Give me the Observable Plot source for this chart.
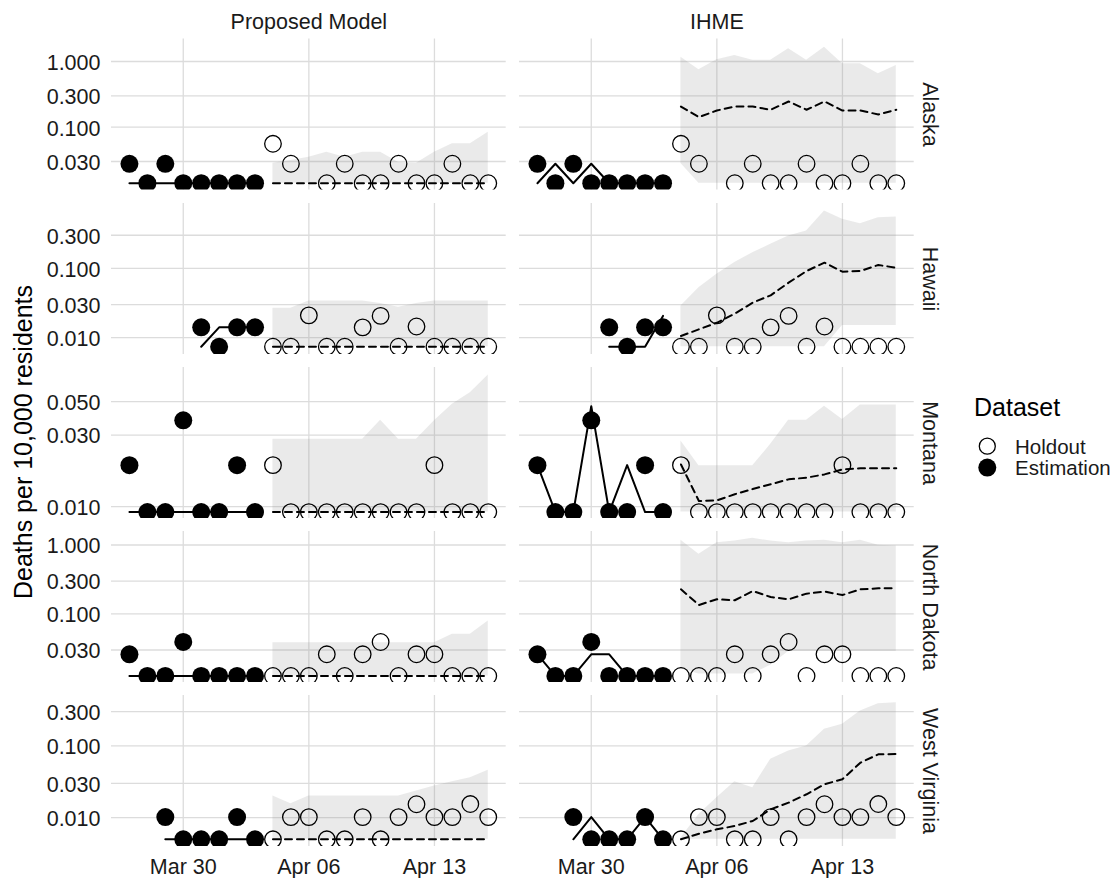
<!DOCTYPE html>
<html>
<head>
<meta charset="utf-8">
<script src="https://cdn.jsdelivr.net/npm/d3@7"></script>
<script src="https://cdn.jsdelivr.net/npm/@observablehq/plot@0.6"></script>
<style>
  html, body { margin: 0; padding: 0; background: #ffffff; }
  #chart { position: relative; width: 1117px; height: 878px; overflow: hidden;
           font-family: "Liberation Sans", Arial, Helvetica, sans-serif; background: #fff; }
  #chart svg.row { position: absolute; left: 0; overflow: visible; }
  #ytitle { position: absolute; left: 23px; top: 442px; transform: translate(-50%, -50%) rotate(-90deg);
            white-space: nowrap; font-size: 25px; color: #000; }
  #legend { position: absolute; left: 0; top: 0; overflow: visible; }
</style>
</head>
<body>
<div id="chart"></div>
<script>
// ---------------- data ----------------
const dates = ["2020-03-27","2020-03-28","2020-03-29","2020-03-30","2020-03-31","2020-04-01","2020-04-02",
  "2020-04-03","2020-04-04","2020-04-05","2020-04-06","2020-04-07","2020-04-08","2020-04-09","2020-04-10",
  "2020-04-11","2020-04-12","2020-04-13","2020-04-14","2020-04-15","2020-04-16"];
const estimationCount = 8; // first 8 dates = Estimation, rest = Holdout
const models = ["Proposed Model", "IHME"];
const states = ["Alaska", "Hawaii", "Montana", "North Dakota", "West Virginia"];
const xTickLabels = ["2020-03-30", "2020-04-06", "2020-04-13"];
const xDomain = ["2020-03-26", "2020-04-17"];

// Alaska
const obsAlaska      = [0.0277,0.014,0.0277,0.014,0.014,0.014,0.014,0.014,0.0558,0.0277,null,0.014,0.0277,0.014,0.014,0.0277,0.014,0.014,0.0277,0.014,0.014];
const propFitAlaska  = [0.014,0.014,0.014,0.014,0.014,0.014,0.014,0.014,0.014,0.014,0.014,0.014,0.014,0.014,0.014,0.014,0.014,0.014,0.014,0.014,0.014];
const propLoAlaska   = [0.014,0.014,0.014,0.014,0.014,0.014,0.014,0.014,0.014,0.014,0.014,0.014,0.014];
const propHiAlaska   = [0.0283,0.031,0.0349,0.0416,0.0349,0.0416,0.0416,0.029,0.0283,0.0416,0.0557,0.0557,0.0839];
const ihmeFitAlaska  = [0.014,0.0277,0.014,0.0277,0.014,0.014,0.014,0.014,0.206,0.142,0.179,0.206,0.206,0.184,0.246,0.184,0.246,0.179,0.179,0.156,0.184];
const ihmeLoAlaska   = [0.028,0.014,0.014,0.014,0.014,0.014,0.014,0.014,0.014,0.014,0.014,0.014,0.014];
const ihmeHiAlaska   = [1.16,0.746,1.06,1.23,1.04,1.04,1.56,1.04,1.65,0.92,0.92,0.65,0.87];
const yTicksAlaska   = [0.03, 0.1, 0.3, 1];
const yDomainAlaska  = [0.01104, 2.20];

// Hawaii
const obsHawaii      = [null,null,null,null,0.0141,0.0074,0.0141,0.0141,0.0074,0.0074,0.021,0.0074,0.0074,0.0141,0.0206,0.0074,0.0145,0.0074,0.0074,0.0074,0.0074];
const propFitHawaii  = [null,null,null,null,0.0074,0.0141,0.0141,0.0141,0.0074,0.0074,0.0074,0.0074,0.0074,0.0074,0.0074,0.0074,0.0074,0.0074,0.0074,0.0074,0.0074];
const propLoHawaii   = [0.0074,0.0074,0.0074,0.0074,0.0074,0.0074,0.0074,0.0074,0.0074,0.0074,0.0074,0.0074,0.0074];
const propHiHawaii   = [0.0265,0.0265,0.0338,0.0338,0.0338,0.0338,0.031,0.0275,0.031,0.0338,0.0338,0.0338,0.0338];
const ihmeFitHawaii  = [null,null,null,null,0.0074,0.0074,0.0074,0.0206,0.01057,0.0132,0.0164,0.0222,0.032,0.0408,0.0621,0.0915,0.1207,0.0895,0.0915,0.1117,0.102];
const ihmeLoHawaii   = [0.0074,0.0074,0.0074,0.0074,0.0074,0.0074,0.0074,0.0074,0.0074,0.015,0.015,0.015,0.015];
const ihmeHiHawaii   = [0.0286,0.0526,0.0819,0.121,0.168,0.222,0.292,0.345,0.671,0.509,0.441,0.538,0.55];
const yTicksHawaii   = [0.01, 0.03, 0.1, 0.3];
const yDomainHawaii  = [0.00572, 0.861];

// Montana
const obsMontana     = [0.0189,0.0092,0.0092,0.0376,0.0092,0.0092,0.0189,0.0092,0.0189,0.0092,0.0092,0.0092,0.0092,0.0092,0.0092,0.0092,0.0092,0.0189,0.0092,0.0092,0.0092];
const propFitMontana = [0.0092,0.0092,0.0092,0.0092,0.0092,0.0092,0.0092,0.0092,0.0092,0.0092,0.0092,0.0092,0.0092,0.0092,0.0092,0.0092,0.0092,0.0092,0.0092,0.0092,0.0092];
const propLoMontana  = [0.0092,0.0092,0.0092,0.0092,0.0092,0.0092,0.0092,0.0092,0.0092,0.0092,0.0092,0.0092,0.0092];
const propHiMontana  = [0.0281,0.0281,0.0281,0.0281,0.0281,0.0281,0.0376,0.0281,0.0281,0.0373,0.0481,0.0574,0.0753];
const ihmeFitMontana = [0.0189,0.0092,0.0092,0.0467,0.0092,0.0189,0.0092,0.0092,0.0191,0.0109,0.011,0.0121,0.0131,0.0141,0.0152,0.0156,0.0164,0.0177,0.018,0.018,0.018];
const ihmeLoMontana  = [0.0092,0.0092,0.0092,0.0092,0.0092,0.0092,0.0092,0.0092,0.0092,0.0092,0.0092,0.0092,0.0092];
const ihmeHiMontana  = [0.0274,0.0187,0.0187,0.0187,0.0187,0.026,0.0376,0.0376,0.0467,0.038,0.0475,0.0475,0.0475];
const yTicksMontana  = [0.01, 0.03, 0.05];
const yDomainMontana = [0.00834, 0.0845];

// North Dakota
const obsNorthDakota     = [0.026,0.0126,0.0126,0.0392,0.0126,0.0126,0.0126,0.0126,0.0126,0.0126,0.0126,0.026,0.0126,0.026,0.0392,0.0126,0.026,0.026,0.0126,0.0126,0.0126];
const propFitNorthDakota = [0.0126,0.0126,0.0126,0.0126,0.0126,0.0126,0.0126,0.0126,0.0126,0.0126,0.0126,0.0126,0.0126,0.0126,0.0126,0.0126,0.0126,0.0126,0.0126,0.0126,0.0126];
const propLoNorthDakota  = [0.0126,0.0126,0.0126,0.0126,0.0126,0.0126,0.0126,0.0126,0.0126,0.0126,0.0126,0.0126,0.0126];
const propHiNorthDakota  = [0.0383,0.0383,0.0383,0.0383,0.0383,0.0383,0.0383,0.0383,0.0383,0.0383,0.0506,0.0506,0.079];
const ihmeFitNorthDakota = [0.026,0.0126,0.0126,0.026,0.026,0.0126,0.0126,0.0126,0.2276,0.1349,0.163,0.158,0.215,0.176,0.163,0.197,0.211,0.188,0.2276,0.235,0.235];
const ihmeLoNorthDakota  = [0.016,0.0135,0.0135,0.0135,0.0135,0.018,0.0285,0.0285,0.0285,0.0285,0.0285,0.0285,0.0285];
const ihmeHiNorthDakota  = [1.17,0.733,1.08,1.14,1.25,1.14,1.08,1.14,1.17,1.08,1.17,0.99,0.97];
const yTicksNorthDakota  = [0.03, 0.1, 0.3, 1];
const yDomainNorthDakota = [0.01013, 1.57];

// West Virginia
const obsWestVirginia     = [null,null,0.0102,0.005,0.005,0.005,0.0102,0.005,0.005,0.0102,0.0102,0.005,0.005,0.0102,0.005,0.0102,0.0154,0.0102,0.0102,0.0155,0.0102];
const propFitWestVirginia = [null,null,0.005,0.005,0.005,0.005,0.005,0.005,0.005,0.005,0.005,0.005,0.005,0.005,0.005,0.005,0.005,0.005,0.005,0.005,0.005];
const propLoWestVirginia  = [0.005,0.005,0.005,0.005,0.005,0.005,0.005,0.005,0.005,0.005,0.005,0.005,0.005];
const propHiWestVirginia  = [0.02,0.0157,0.02,0.02,0.02,0.02,0.02,0.02,0.0235,0.0277,0.0317,0.0361,0.0457];
const ihmeFitWestVirginia = [null,null,0.005,0.0102,0.005,0.005,0.0102,0.005,0.005,0.00598,0.00689,0.00766,0.009,0.0131,0.0162,0.0212,0.0292,0.0343,0.0584,0.0764,0.077];
const ihmeLoWestVirginia  = [0.005,0.005,0.005,0.005,0.005,0.005,0.005,0.005,0.005,0.005,0.005,0.005,0.005];
const ihmeHiWestVirginia  = [0.0052,0.0111,0.019,0.0317,0.0262,0.0651,0.0849,0.0998,0.1706,0.2,0.307,0.388,0.40];
const yTicksWestVirginia  = [0.01, 0.03, 0.1, 0.3];
const yDomainWestVirginia = [0.00397, 0.504];

// ---------------- build ----------------
const parse = d3.utcParse("%Y-%m-%d");
const D = dates.map(parse);
const xTickDates = xTickLabels.map(parse);
const fmtY = d3.format(".3f");

const specs = [
  {state: states[0], obs: obsAlaska, fit: [propFitAlaska, ihmeFitAlaska], lo: [propLoAlaska, ihmeLoAlaska], hi: [propHiAlaska, ihmeHiAlaska], ticks: yTicksAlaska, domain: yDomainAlaska},
  {state: states[1], obs: obsHawaii, fit: [propFitHawaii, ihmeFitHawaii], lo: [propLoHawaii, ihmeLoHawaii], hi: [propHiHawaii, ihmeHiHawaii], ticks: yTicksHawaii, domain: yDomainHawaii},
  {state: states[2], obs: obsMontana, fit: [propFitMontana, ihmeFitMontana], lo: [propLoMontana, ihmeLoMontana], hi: [propHiMontana, ihmeHiMontana], ticks: yTicksMontana, domain: yDomainMontana},
  {state: states[3], obs: obsNorthDakota, fit: [propFitNorthDakota, ihmeFitNorthDakota], lo: [propLoNorthDakota, ihmeLoNorthDakota], hi: [propHiNorthDakota, ihmeHiNorthDakota], ticks: yTicksNorthDakota, domain: yDomainNorthDakota},
  {state: states[4], obs: obsWestVirginia, fit: [propFitWestVirginia, ihmeFitWestVirginia], lo: [propLoWestVirginia, ihmeLoWestVirginia], hi: [propHiWestVirginia, ihmeHiWestVirginia], ticks: yTicksWestVirginia, domain: yDomainWestVirginia}
];

const FONT = '"Liberation Sans", Arial, Helvetica, sans-serif';
const TXT = 21.5;
const panelTops = [38.5, 202.5, 366.5, 530.5, 694.5];
const panelH = 151;
const chart = document.getElementById("chart");

specs.forEach((s, r) => {
  const obsEst = [], obsHold = [], lineEst = [], lineHold = [], ribbon = [];
  models.forEach((m, k) => {
    D.forEach((d, i) => {
      const set = i < estimationCount ? "Estimation" : "Holdout";
      if (s.obs[i] != null) (set === "Estimation" ? obsEst : obsHold).push({model: m, date: d, value: s.obs[i]});
      (set === "Estimation" ? lineEst : lineHold).push({model: m, date: d, value: s.fit[k][i] == null ? NaN : s.fit[k][i]});
      if (i >= estimationCount) ribbon.push({model: m, date: d, lo: s.lo[k][i - estimationCount], hi: s.hi[k][i - estimationCount]});
    });
  });
  const tickRows = s.ticks.map(v => ({model: models[0], v, label: fmtY(v)}));
  const first = r === 0, last = r === specs.length - 1;
  const mt = first ? 38.5 : 0, mb = last ? 32.5 : 0;
  const svg = Plot.plot({
    width: 1117, height: mt + panelH + mb,
    marginLeft: 111, marginRight: 203.3, marginTop: mt, marginBottom: mb,
    style: {fontFamily: FONT, fontSize: TXT + "px", color: "#1a1a1a", background: "transparent", overflow: "visible"},
    fx: {domain: models, paddingInner: 13.3 / 408, paddingOuter: 0, round: false, axis: null, label: null},
    x: {type: "utc", domain: xDomain.map(parse), axis: null},
    y: {type: "log", domain: s.domain, axis: null},
    marks: [
      Plot.gridY(s.ticks, {stroke: "#dcdcdc", strokeOpacity: 1, strokeWidth: 1.3}),
      Plot.gridX(xTickDates, {stroke: "#dcdcdc", strokeOpacity: 1, strokeWidth: 1.3}),
      Plot.areaY(ribbon, {fx: "model", x: "date", y1: "lo", y2: "hi", fill: "#808080", fillOpacity: 0.17, clip: true}),
      Plot.line(lineEst, {fx: "model", x: "date", y: "value", stroke: "#000", strokeWidth: 2, clip: true}),
      Plot.line(lineHold, {fx: "model", x: "date", y: "value", stroke: "#000", strokeWidth: 2, strokeDasharray: "7,5", clip: true}),
      Plot.dot(obsEst, {fx: "model", x: "date", y: "value", r: 9, fill: "#000", stroke: "none", clip: true}),
      Plot.dot(obsHold, {fx: "model", x: "date", y: "value", r: 8.3, fill: "none", stroke: "#000", strokeWidth: 1.3, clip: true}),
      Plot.text(tickRows, {fx: "model", y: "v", text: "label", frameAnchor: "left", textAnchor: "end", lineAnchor: "middle", dx: -11, dy: 1.5, fontSize: TXT, fill: "#1a1a1a"}),
      Plot.text([{model: "IHME", label: s.state}], {fx: "model", text: "label", frameAnchor: "right", textAnchor: "middle", lineAnchor: "middle", rotate: 90, dx: 15.3, fontSize: TXT, fill: "#1a1a1a"}),
      first ? Plot.axisFx({anchor: "top", tickSize: 0, tickPadding: 10.5, label: null, fontSize: TXT, fill: "#1a1a1a"}) : null,
      last ? Plot.axisX(xTickDates, {tickFormat: d3.utcFormat("%b %d"), tickSize: 0, tickPadding: 12.5, label: null, fontSize: TXT, fill: "#1a1a1a"}) : null
    ]
  });
  svg.classList.add("row");
  svg.style.position = "absolute";
  svg.style.top = (panelTops[r] - mt) + "px";
  chart.appendChild(svg);
});

// y-axis title
const yt = document.createElement("div");
yt.id = "ytitle";
yt.textContent = "Deaths per 10,000 residents";
chart.appendChild(yt);

// legend
const ns = "http://www.w3.org/2000/svg";
const lg = document.createElementNS(ns, "svg");
lg.setAttribute("id", "legend");
lg.setAttribute("width", 1117); lg.setAttribute("height", 878);
lg.style.fontFamily = FONT;
const legendItems = ["Holdout", "Estimation"];
const t = document.createElementNS(ns, "text");
t.setAttribute("x", 974); t.setAttribute("y", 416); t.setAttribute("font-size", 25); t.textContent = "Dataset";
lg.appendChild(t);
legendItems.forEach((name, i) => {
  const cy = 446.2 + i * 21.4;
  const c = document.createElementNS(ns, "circle");
  c.setAttribute("cx", 987.3); c.setAttribute("cy", cy);
  if (name === "Holdout") { c.setAttribute("r", 8); c.setAttribute("fill", "none"); c.setAttribute("stroke", "#000"); c.setAttribute("stroke-width", 1.3); }
  else { c.setAttribute("r", 9); c.setAttribute("fill", "#000"); }
  lg.appendChild(c);
  const tx = document.createElementNS(ns, "text");
  tx.setAttribute("x", 1015); tx.setAttribute("y", cy + 7.3); tx.setAttribute("font-size", 20.5); tx.setAttribute("fill", "#1a1a1a");
  tx.textContent = name;
  lg.appendChild(tx);
});
chart.appendChild(lg);
</script>
</body>
</html>
